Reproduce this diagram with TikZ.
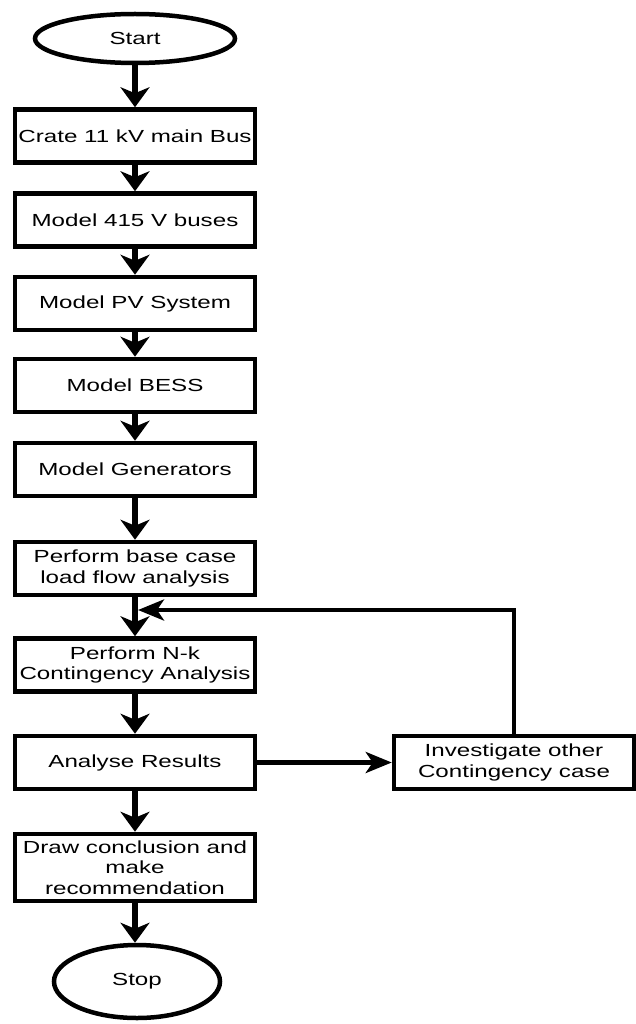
\documentclass[tikz,border=0pt]{standalone}
\usepackage{fontspec}
\setmainfont{Liberation Sans}[FakeStretch=1.38]
\usetikzlibrary{shapes.geometric,arrows.meta}

\begin{document}
\begin{tikzpicture}[x=1pt,y=-1pt,
  caja/.style={shape=rectangle,draw=black,line width=4.5pt,minimum width=240pt,minimum height=53pt,inner sep=2pt,align=center,font=\fontsize{17.5}{20.5}\selectfont},
  terminal/.style={shape=ellipse,draw=black,line width=4.5pt,inner sep=0pt,font=\fontsize{17.5}{20.5}\selectfont},
  flecha/.style={line width=5.5pt,-{Stealth[length=20pt,width=29pt,inset=6pt]}},
  flechaLado/.style={line width=4.5pt,-{Stealth[length=26pt,width=21pt,inset=7pt]}}]
  \useasboundingbox (0,0) rectangle (636,1024);

  \node[terminal,minimum width=200pt,minimum height=49pt] (start) at (135,38.5) {Start};
  \node[caja] (crateBus) at (135,136) {Crate 11 kV main Bus};
  \node[caja] (modelBuses) at (135,220) {Model 415 V buses};
  \node[caja] (modelPV) at (135,303.5) {Model PV System};
  \node[caja] (modelBESS) at (135,385.5) {Model BESS};
  \node[caja] (modelGenerators) at (135,469.5) {Model Generators};
  \node[caja] (baseCase) at (135,568.5) {Perform base case\\load flow analysis};
  \node[caja] (contingency) at (135,665) {Perform N-k\\Contingency Analysis};
  \node[caja] (analyseResults) at (135,762.5) {Analyse Results};
  \node[caja] (investigate) at (514,762.5) {Investigate other\\Contingency case};
  \node[caja,minimum height=67pt] (conclusion) at (135,867.5) {Draw conclusion and\\make\\recommendation};
  \node[terminal,minimum width=166pt,minimum height=73pt] (stop) at (137,981.5) {Stop};
  \coordinate (retorno) at (138,610);

  \path [flecha] (start) edge (crateBus);
  \path [flecha] (crateBus) edge (modelBuses);
  \path [flecha] (modelBuses) edge (modelPV);
  \path [flecha] (modelPV) edge (modelBESS);
  \path [flecha] (modelBESS) edge (modelGenerators);
  \path [flecha] (modelGenerators) edge (baseCase);
  \path [flecha] (baseCase) edge (contingency);
  \path [flecha] (contingency) edge (analyseResults);
  \path [flechaLado] (analyseResults) edge (investigate);
  \path [flecha] (analyseResults) edge (conclusion);
  \path [flecha] (conclusion.south) edge (stop.north -| conclusion.south);
  \draw [flechaLado] (investigate.north) |- (retorno);
\end{tikzpicture}
\end{document}
